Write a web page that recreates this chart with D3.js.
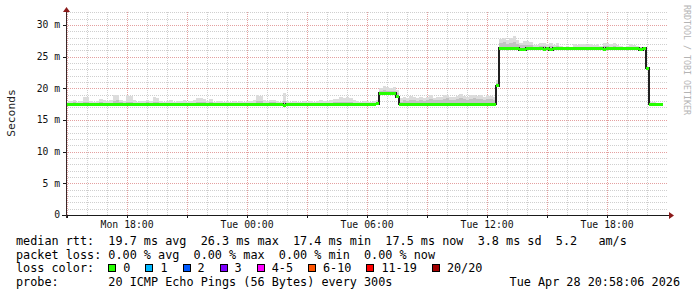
<!DOCTYPE html>
<html>
<head>
<meta charset="utf-8">
<script src="https://cdn.jsdelivr.net/npm/d3@7"></script>
<style>
  html, body { margin: 0; padding: 0; background: #fff; }
  svg text { font-family: "DejaVu Sans Mono", monospace; }
</style>
</head>
<body>
<svg id="chart" width="697" height="297"></svg>
<script>
/* ── Data (10 minute bins, values in ms) ─────────────────────────────── */
const startTime = new Date(2026, 3, 27, 14, 58, 6);
const endTime = new Date(2026, 3, 28, 20, 58, 6);
const binMinutes = 10;

const median = [
  17.5, 17.5, 17.5, 17.4, 17.5, 17.5, 17.5, 17.5, 17.5, 17.5,
  17.5, 17.4, 17.5, 17.5, 17.5, 17.5, 17.5, 17.5, 17.5, 17.5,
  17.5, 17.5, 17.5, 17.5, 17.5, 17.5, 17.5, 17.4, 17.5, 17.5,
  17.5, 17.5, 17.5, 17.5, 17.5, 17.5, 17.5, 17.4, 17.5, 17.5,
  17.5, 17.5, 17.5, 17.5, 17.4, 17.5, 17.5, 17.5, 17.5, 17.5,
  17.5, 17.5, 17.5, 17.5, 17.5, 17.4, 17.5, 17.5, 17.5, 17.5,
  17.5, 17.5, 17.5, 17.5, 17.5, 17.3, 17.5, 17.5, 17.5, 17.5,
  17.5, 17.5, 17.4, 17.5, 17.5, 17.5, 17.5, 17.5, 17.5, 17.5,
  17.5, 17.5, 17.5, 17.5, 17.5, 17.5, 17.5, 17.4, 17.5, 17.5,
  17.5, 17.5, 17.5, 17.6, 19.2, 19.2, 19.2, 19.2, 19.2, 18.7,
  17.5, 17.4, 17.5, 17.5, 17.5, 17.5, 17.5, 17.5, 17.5, 17.5,
  17.5, 17.5, 17.5, 17.5, 17.5, 17.5, 17.5, 17.5, 17.5, 17.5,
  17.5, 17.5, 17.5, 17.5, 17.5, 17.5, 17.5, 17.5, 17.5, 20.4,
  26.3, 26.3, 26.3, 26.3, 26.3, 26.3, 26.1, 26.1, 26.3, 26.3,
  26.3, 26.3, 26.3, 26.2, 26.3, 26.1, 26.3, 26.3, 26.3, 26.3,
  26.3, 26.3, 26.3, 26.3, 26.3, 26.3, 26.3, 26.3, 26.3, 26.3,
  26.3, 26.2, 26.3, 26.3, 26.3, 26.3, 26.3, 26.3, 26.3, 26.3,
  26.3, 26.3, 26.1, 26.3, 23.2, 17.5, 17.5, 17.5, 17.5, null
];

const smokeMid = [
  17.7, 17.7, 17.8, 17.7, 17.7, 17.9, 17.9, 17.7, 17.7, 17.7,
  17.8, 17.7, 17.7, 17.7, 18.0, 18.1, 17.8, 17.7, 17.9, 17.9,
  17.7, 17.7, 17.7, 17.7, 17.8, 17.7, 17.9, 17.8, 17.7, 17.7,
  17.7, 17.7, 17.7, 17.7, 17.7, 17.7, 17.7, 17.7, 17.7, 17.8,
  17.8, 17.8, 17.7, 17.8, 17.7, 17.7, 17.7, 17.7, 17.7, 17.7,
  17.7, 17.7, 17.7, 17.7, 17.7, 17.7, 17.7, 18.0, 18.0, 17.7,
  17.7, 17.8, 17.8, 17.7, 17.7, 18.0, 17.7, 17.7, 17.7, 17.7,
  17.7, 17.7, 17.7, 17.7, 17.7, 17.7, 17.7, 17.7, 17.7, 17.7,
  17.8, 17.8, 17.9, 17.9, 17.9, 17.8, 17.7, 17.7, 17.7, 17.7,
  17.7, 17.7, 17.7, 17.8, 19.5, 19.7, 19.6, 19.6, 19.6, 19.3,
  17.9, 18.1, 18.0, 18.2, 18.1, 18.0, 18.2, 18.0, 18.1, 18.3,
  18.1, 18.2, 18.1, 18.3, 18.4, 18.2, 18.1, 18.3, 18.4, 18.3,
  18.2, 18.3, 18.4, 18.3, 18.3, 18.2, 18.3, 18.3, 18.1, 20.9,
  27.1, 27.3, 27.0, 27.2, 27.3, 27.0, 26.8, 26.9, 26.9, 26.8,
  26.5, 26.6, 26.7, 26.7, 26.6, 26.7, 26.6, 26.7, 26.5, 26.5,
  26.5, 26.5, 26.6, 26.6, 26.6, 26.6, 26.6, 26.6, 26.5, 26.6,
  26.5, 26.7, 26.7, 26.6, 26.7, 26.6, 26.5, 26.5, 26.5, 26.6,
  26.6, 26.5, 26.5, 26.5, 23.3, 17.7, 17.6, 17.6, 17.5, null
];

const smokeMax = [
  17.9, 18.0, 18.1, 17.9, 18.0, 18.6, 18.6, 18.0, 17.9, 18.0,
  18.3, 18.1, 18.0, 18.1, 19.0, 19.0, 18.2, 18.0, 18.9, 18.8,
  18.1, 17.9, 18.0, 18.0, 18.1, 18.0, 18.6, 18.4, 18.0, 17.9,
  18.0, 18.1, 17.9, 18.0, 18.0, 18.1, 17.9, 18.0, 18.1, 18.4,
  18.4, 18.3, 18.0, 18.3, 17.9, 18.0, 18.0, 17.9, 18.0, 17.9,
  18.0, 17.9, 18.0, 17.9, 18.0, 18.0, 18.1, 18.9, 18.8, 18.1,
  18.0, 18.2, 18.2, 18.0, 17.9, 19.3, 18.0, 17.9, 18.0, 17.9,
  17.9, 18.0, 17.9, 18.0, 17.9, 18.0, 18.1, 18.0, 18.0, 18.1,
  18.3, 18.3, 18.6, 18.5, 18.6, 18.4, 18.1, 18.0, 17.9, 18.0,
  18.0, 17.9, 18.0, 18.2, 20.0, 20.3, 20.2, 20.1, 20.2, 19.8,
  18.4, 18.6, 18.5, 18.8, 18.6, 18.4, 18.7, 18.5, 18.6, 18.9,
  18.5, 18.7, 18.6, 18.9, 19.0, 18.7, 18.6, 18.8, 19.1, 18.8,
  18.7, 18.9, 19.0, 18.8, 18.9, 18.7, 18.9, 18.8, 18.6, 21.3,
  27.8, 28.0, 27.6, 27.9, 28.2, 27.7, 27.2, 27.4, 27.4, 27.3,
  26.8, 26.9, 27.1, 27.1, 27.0, 27.1, 26.9, 27.1, 26.7, 26.6,
  26.7, 26.6, 27.0, 26.9, 27.0, 27.0, 26.9, 27.0, 26.8, 27.0,
  26.7, 27.1, 27.2, 27.0, 27.1, 26.9, 26.7, 26.6, 26.7, 27.0,
  26.9, 26.7, 26.6, 26.6, 23.4, 17.9, 17.8, 17.7, 17.6, null
];

const yTicks = [0, 5, 10, 15, 20, 25, 30];

const statRows = [
  'median rtt:  19.7 ms avg  26.3 ms max  17.4 ms min  17.5 ms now  3.8 ms sd  5.2   am/s',
  'packet loss: 0.00 % avg  0.00 % max  0.00 % min  0.00 % now'
];
const lossLabels = ['0', '1', '2', '3', '4-5', '6-10', '11-19', '20/20'];
const lossColors = ['#26ff00', '#00b8ff', '#0059ff', '#7e00ff', '#ff00ff', '#ff5500', '#ff0000', '#a10000'];
const probeText = 'probe:       20 ICMP Echo Pings (56 Bytes) every 300s';
const stampText = 'Tue Apr 28 20:58:06 2026';

/* ── Layout ──────────────────────────────────────────────────────────── */
const X0 = 66, X1 = 666, Y0 = 215;
const CHAR = 7.1;

const svg = d3.select('#chart');

const x = d3.scaleTime().domain([startTime, endTime]).range([X0, X1]);
const y = d3.scaleLinear().domain([0, 32]).range([Y0, 12.33]);
const px = v => Math.round(v) + 0.5;

const binTime = i => d3.timeMinute.offset(startTime, i * binMinutes);

/* ── Grid ────────────────────────────────────────────────────────────── */
const grid = svg.append('g').attr('shape-rendering', 'crispEdges');

const minorY = d3.range(1, 33).filter(v => v % 5 !== 0);
grid.selectAll('.gy').data(minorY).join('line')
  .attr('x1', X0).attr('x2', X1 + 2)
  .attr('y1', d => px(y(d))).attr('y2', d => px(y(d)))
  .attr('stroke', '#cfcfcf').attr('stroke-dasharray', '1,1');

const hours = d3.timeHour.range(startTime, endTime);
grid.selectAll('.gx').data(hours.filter(h => h.getHours() % 3 !== 0)).join('line')
  .attr('x1', d => px(x(d))).attr('x2', d => px(x(d)))
  .attr('y1', y(32)).attr('y2', Y0)
  .attr('stroke', '#cfcfcf').attr('stroke-dasharray', '1,1');

grid.selectAll('.my').data(yTicks.filter(v => v > 0)).join('line')
  .attr('x1', X0).attr('x2', X1 + 2)
  .attr('y1', d => px(y(d))).attr('y2', d => px(y(d)))
  .attr('stroke', '#e4a0a0').attr('stroke-dasharray', '1,1');

const majorHours = hours.filter(h => h.getHours() % 3 === 0);
grid.selectAll('.mx').data(majorHours).join('line')
  .attr('x1', d => px(x(d))).attr('x2', d => px(x(d)))
  .attr('y1', y(32)).attr('y2', Y0)
  .attr('stroke', '#e4a0a0').attr('stroke-dasharray', '1,1');

/* ── Smoke ───────────────────────────────────────────────────────────── */
const bins = median.map((m, i) => ({
  i, m, mid: smokeMid[i], max: smokeMax[i],
  t0: binTime(i), t1: binTime(i + 1)
})).filter(d => d.m != null);

const smoke = svg.append('g').attr('shape-rendering', 'crispEdges');
smoke.selectAll('.smax').data(bins).join('rect')
  .attr('x', d => x(d.t0)).attr('width', d => x(d.t1) - x(d.t0))
  .attr('y', d => y(d.max)).attr('height', d => y(d.m) - y(d.max))
  .attr('fill', '#dcdcdc');
smoke.selectAll('.smid').data(bins).join('rect')
  .attr('x', d => x(d.t0)).attr('width', d => x(d.t1) - x(d.t0))
  .attr('y', d => y(d.mid)).attr('height', d => y(d.m) - y(d.mid))
  .attr('fill', '#c2c2c2');

/* ── Median line ─────────────────────────────────────────────────────── */
const stepPts = bins.map(d => [d.t0, d.m]);
const lastBin = bins[bins.length - 1];
stepPts.push([lastBin.t1, lastBin.m]);

svg.append('path')
  .datum(stepPts)
  .attr('fill', 'none')
  .attr('stroke', '#202020')
  .attr('stroke-width', 2)
  .attr('shape-rendering', 'crispEdges')
  .attr('d', d3.line().x(d => x(d[0])).y(d => y(d[1])).curve(d3.curveStepAfter));

svg.append('g').attr('shape-rendering', 'crispEdges')
  .selectAll('line').data(bins).join('line')
  .attr('x1', d => x(d.t0)).attr('x2', d => x(d.t1))
  .attr('y1', d => y(d.m)).attr('y2', d => y(d.m))
  .attr('stroke', lossColors[0]).attr('stroke-width', 3);

/* ── Axes ────────────────────────────────────────────────────────────── */
const axis = svg.append('g').attr('shape-rendering', 'crispEdges');
axis.append('line')
  .attr('x1', X0 - 4).attr('x2', X1 + 4).attr('y1', Y0 + 0.5).attr('y2', Y0 + 0.5)
  .attr('stroke', '#1a1a1a');
axis.append('line')
  .attr('x1', X0 + 0.5).attr('x2', X0 + 0.5).attr('y1', 11).attr('y2', Y0 + 3)
  .attr('stroke', '#3a2a2a');
axis.selectAll('.yt').data(yTicks).join('line')
  .attr('x1', X0 - 3).attr('x2', X0)
  .attr('y1', d => px(y(d))).attr('y2', d => px(y(d)))
  .attr('stroke', '#1a1a1a');
axis.selectAll('.xt').data(majorHours).join('line')
  .attr('x1', d => px(x(d))).attr('x2', d => px(x(d)))
  .attr('y1', Y0).attr('y2', Y0 + 3)
  .attr('stroke', '#1a1a1a');

// arrows
svg.append('path').attr('d', `M${X1 + 3},${Y0 - 3} L${X1 + 8},${Y0 + 0.5} L${X1 + 3},${Y0 + 4} Z`)
  .attr('fill', '#8b1a1a');
svg.append('path').attr('d', `M${X0 - 3},12 L${X0 + 0.5},7 L${X0 + 4},12 Z`)
  .attr('fill', '#8b1a1a');

/* ── Labels ──────────────────────────────────────────────────────────── */
svg.selectAll('.ylab').data(yTicks).join('text')
  .attr('x', 60).attr('y', d => y(d)).attr('dy', '0.36em')
  .attr('text-anchor', 'end').attr('font-size', '9.7px').attr('fill', '#111')
  .text(d => d === 0 ? '0' : `${d} m`);

const fmt = d3.timeFormat('%a %H:%M');
svg.selectAll('.xlab').data(hours.filter(h => h.getHours() % 6 === 0)).join('text')
  .attr('x', d => x(d) + 0.5).attr('y', 228)
  .attr('text-anchor', 'middle').attr('font-size', '9.8px').attr('fill', '#111')
  .text(d => fmt(d));

svg.append('text')
  .attr('transform', 'translate(15,113) rotate(-90)')
  .attr('text-anchor', 'middle').attr('font-size', '11.3px').attr('fill', '#222')
  .text('Seconds');

svg.append('text')
  .attr('transform', 'translate(684,5) rotate(90)')
  .attr('font-size', '8.3px').attr('fill', '#b4b4b4')
  .text('RRDTOOL / TOBI OETIKER');

/* ── Legend ──────────────────────────────────────────────────────────── */
const LX = 16;
const legend = svg.append('g').attr('font-size', '11.8px').attr('fill', '#000');
const rowY = [245, 258.5, 272, 285.5];

statRows.forEach((s, k) => {
  legend.append('text').attr('x', LX).attr('y', rowY[k])
    .attr('xml:space', 'preserve').style('white-space', 'pre').text(s);
});

legend.append('text').attr('x', LX).attr('y', rowY[2])
  .style('white-space', 'pre').text('loss color:');

let bx = LX + 13 * CHAR;
lossLabels.forEach((lab, k) => {
  legend.append('rect')
    .attr('x', Math.round(bx) + 0.5).attr('y', 264.5)
    .attr('width', 7).attr('height', 7)
    .attr('fill', lossColors[k]).attr('stroke', '#000')
    .attr('shape-rendering', 'crispEdges');
  legend.append('text').attr('x', bx + 15).attr('y', rowY[2]).text(lab);
  bx += 15 + lab.length * CHAR + 15;
});

legend.append('text').attr('x', LX).attr('y', rowY[3])
  .style('white-space', 'pre').text(probeText);
legend.append('text').attr('x', 680).attr('y', rowY[3])
  .attr('text-anchor', 'end').text(stampText);
</script>
</body>
</html>
